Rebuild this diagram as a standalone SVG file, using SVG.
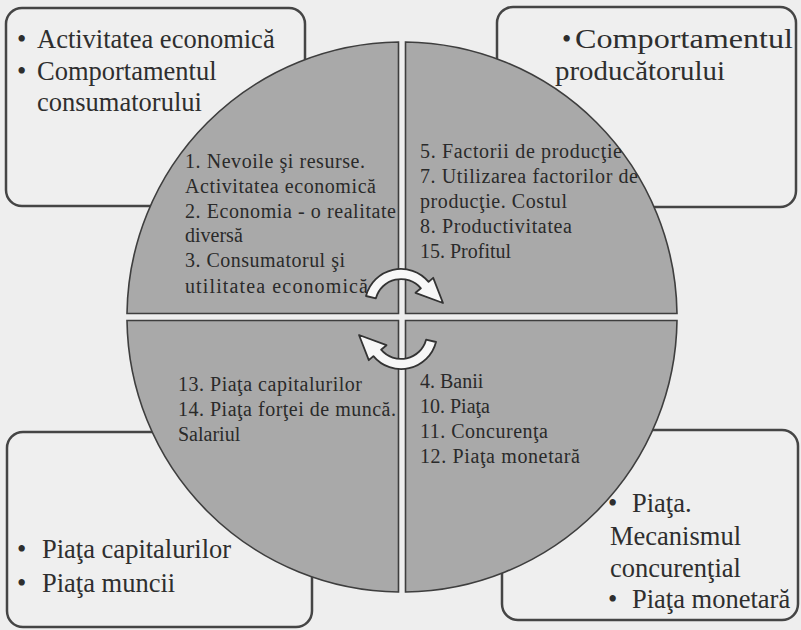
<svg xmlns="http://www.w3.org/2000/svg" width="801" height="630" viewBox="0 0 801 630">
<defs>
<style>
.box{fill:#efefef;stroke:#454545;stroke-width:2.5}
.q{fill:#a9a9a9;stroke:#3e3e3e;stroke-width:1.6}
.bt{font-family:"Liberation Serif","DejaVu Serif",serif;font-size:26.5px;fill:#2e2e2e}
.ct{font-family:"Liberation Serif","DejaVu Serif",serif;font-size:20px;fill:#2a2a2a}
.arr{fill:#f7f7f7;stroke:#333;stroke-width:1.8;stroke-linejoin:round}
</style>
</defs>
<rect width="801" height="630" fill="#eeeeee"/>

<g id="box-tl">
<rect class="box" x="6" y="8" width="299" height="198" rx="16"/>
<text class="bt" x="17" y="48">•<tspan x="37">Activitatea economică</tspan></text>
<text class="bt" x="17" y="80">•<tspan x="37">Comportamentul</tspan></text>
<text class="bt" x="37" y="111">consumatorului</text>
</g>

<g id="box-tr">
<rect class="box" x="497" y="7" width="299" height="200" rx="16"/>
<text class="bt" x="562" y="48">•<tspan x="575" textLength="218" lengthAdjust="spacingAndGlyphs">Comportamentul</tspan></text>
<text class="bt" x="555" y="80" textLength="170" lengthAdjust="spacingAndGlyphs">producătorului</text>
</g>

<g id="box-bl">
<rect class="box" x="7" y="432" width="305" height="195" rx="16"/>
<text class="bt" x="17" y="558">•<tspan x="42">Piaţa capitalurilor</tspan></text>
<text class="bt" x="17" y="592">•<tspan x="42">Piaţa muncii</tspan></text>
</g>

<g id="box-br">
<rect class="box" x="502" y="430" width="296" height="190" rx="16"/>
<text class="bt" x="608" y="512">•<tspan x="632">Piaţa.</tspan></text>
<text class="bt" x="610" y="545">Mecanismul</text>
<text class="bt" x="610" y="577">concurenţial</text>
<text class="bt" x="608" y="608">•<tspan x="632">Piaţa monetară</tspan></text>
</g>

<g id="quadrant-tl">
<path class="q" d="M398.5 313.5 L398.5 42 A275 275 0 0 0 127 313.5 Z"/>
<text class="ct" x="185" y="168" textLength="180" lengthAdjust="spacing">1. Nevoile şi resurse.</text>
<text class="ct" x="185" y="193" textLength="191" lengthAdjust="spacing">Activitatea economică</text>
<text class="ct" x="185" y="218" textLength="211" lengthAdjust="spacing">2. Economia - o realitate</text>
<text class="ct" x="185" y="242">diversă</text>
<text class="ct" x="185" y="267" textLength="160" lengthAdjust="spacing">3. Consumatorul şi</text>
<text class="ct" x="185" y="293" textLength="183" lengthAdjust="spacing">utilitatea economică</text>
</g>

<g id="quadrant-tr">
<path class="q" d="M405.5 313.5 L405.5 42 A275 275 0 0 1 677 313.5 Z"/>
<text class="ct" x="420" y="158" textLength="202" lengthAdjust="spacing">5. Factorii de producţie</text>
<text class="ct" x="420" y="183" textLength="218" lengthAdjust="spacing">7. Utilizarea factorilor de</text>
<text class="ct" x="420" y="208" textLength="147" lengthAdjust="spacing">producţie. Costul</text>
<text class="ct" x="420" y="233" textLength="152" lengthAdjust="spacing">8. Productivitatea</text>
<text class="ct" x="420" y="258">15. Profitul</text>
</g>

<g id="quadrant-bl">
<path class="q" d="M398.5 320.5 L127 320.5 A275 275 0 0 0 398.5 592 Z"/>
<text class="ct" x="178" y="391" textLength="184" lengthAdjust="spacing">13. Piaţa capitalurilor</text>
<text class="ct" x="178" y="416" textLength="218" lengthAdjust="spacing">14. Piaţa forţei de muncă.</text>
<text class="ct" x="178" y="441">Salariul</text>
</g>

<g id="quadrant-br">
<path class="q" d="M405.5 320.5 L677 320.5 A275 275 0 0 1 405.5 592 Z"/>
<text class="ct" x="420" y="388">4. Banii</text>
<text class="ct" x="420" y="413">10. Piaţa</text>
<text class="ct" x="420" y="438" textLength="128" lengthAdjust="spacing">11. Concurenţa</text>
<text class="ct" x="420" y="463" textLength="160" lengthAdjust="spacing">12. Piaţa monetară</text>
</g>

<g id="connectors">
<path id="arrow-top" class="arr" d="M366 296 A36 36 0 0 1 428.6 281.9 L433.2 277.8 L443 303 L415.5 292.8 L420.9 288.3 A26 26 0 0 0 375.9 298.3 Z"/>
<path id="arrow-bottom" class="arr" transform="rotate(180 401 319)" d="M366 296 A36 36 0 0 1 428.6 281.9 L433.2 277.8 L443 303 L415.5 292.8 L420.9 288.3 A26 26 0 0 0 375.9 298.3 Z"/>
</g>
</svg>
